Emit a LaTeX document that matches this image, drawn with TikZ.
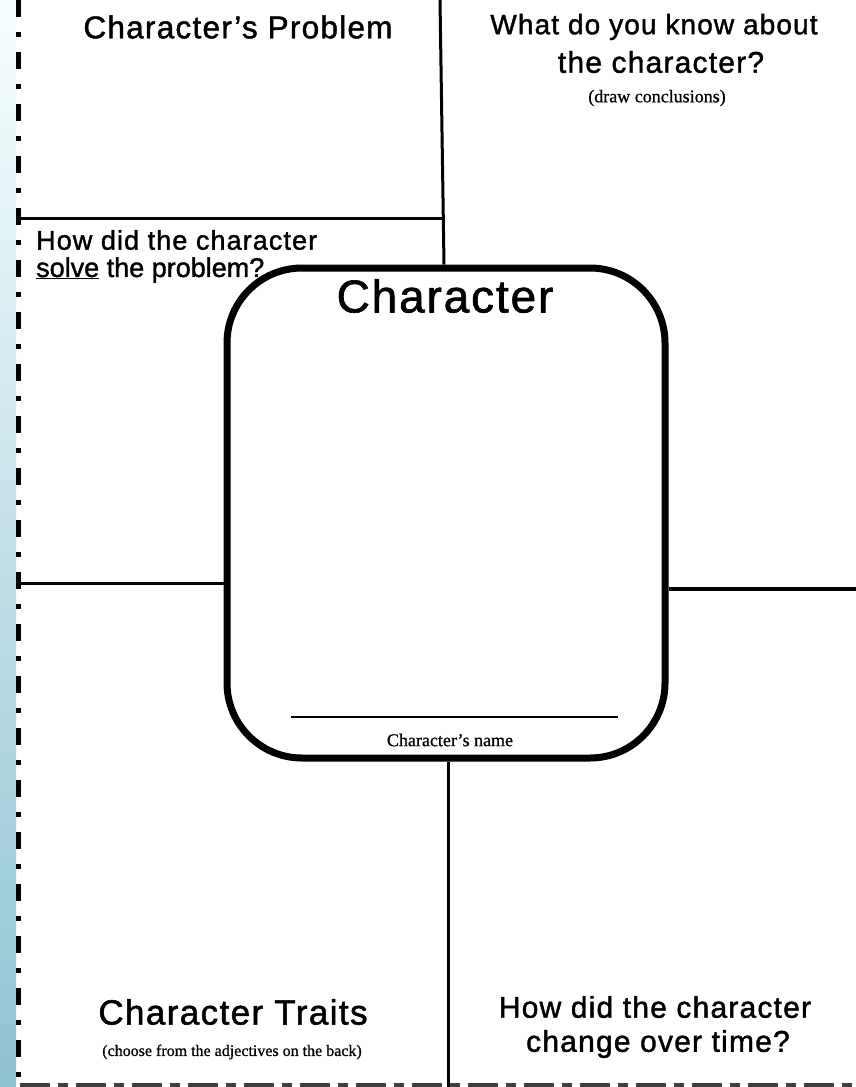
\documentclass[tikz,border=0pt]{standalone}
\usepackage{fontspec}
\setmainfont{Liberation Sans}
\newfontfamily\headfont[LetterSpace=4,FakeBold=1.4]{Liberation Sans}
\newfontfamily\headtight[LetterSpace=0,FakeBold=1.4]{Liberation Sans}
\newfontfamily\smallserif[FakeBold=0.8]{Liberation Serif}
\begin{document}
\begin{tikzpicture}[x=1pt,y=-1pt,
  head/.style={font=\headfont\fontsize{30}{34}\selectfont, inner sep=0pt},
  bighead/.style={font=\headfont\fontsize{35}{40}\selectfont, inner sep=0pt},
  note/.style={font=\smallserif\fontsize{18}{20}\selectfont, inner sep=0pt},
  rule/.style={line width=3pt, black},
  border/.style={line width=5pt, dash pattern=on 17pt off 15pt on 5pt off 15pt}
]
\useasboundingbox (0,0) rectangle (856,1087);
\fill[white] (0,0) rectangle (856,1087);
\shade[top color=blue!3!cyan!3!white, bottom color={rgb,255:red,142;green,195;blue,212}] (0,0) rectangle (16,1087);

% borders
\coordinate (lt) at (18,0);
\coordinate (lb) at (18,1080);
\draw[border] (lt) -- (lb);
\coordinate (bl) at (20,1085);
\coordinate (br) at (856,1085);
\draw[line width=5pt, black!75, dash pattern=on 30pt off 8pt on 10pt off 8pt] (bl) -- (br);

% central box
\node[draw, line width=7pt, rounded corners=75pt, minimum width=438pt, minimum height=490pt, inner sep=0pt] (box) at (446,513) {};

% dividing lines
\coordinate (ttop) at (440,0);
\draw[rule] (ttop) -- (box.north -| 444,0);
\coordinate (hl1) at (18,218);
\coordinate (hl2) at (442,218);
\draw[rule] (hl1) -- (hl2);
\coordinate (ll) at (18,583);
\draw[rule] (ll) -- (ll -| box.west);
\coordinate (rr) at (856,589);
\draw[line width=4pt] (rr -| box.east) -- (rr);
\coordinate (bb) at (448,1087);
\draw[rule] (box.south -| bb) -- (bb);

% name line
\coordinate (n1) at (291,717);
\coordinate (n2) at (618,717);
\draw[line width=2pt] (n1) -- (n2);

% texts
\node[head, font=\headfont\fontsize{31.5}{35}\selectfont] (prob) at (238,27) {Character’s Problem};
\node[head, font=\headfont\fontsize{28}{32}\selectfont] (know1) at (654,27) {What do you know about};
\node[head] (know2) at (661,62) {the character?};
\node[note] (concl) at (657,98) {(draw conclusions)};
\node[head, font=\headfont\fontsize{27}{30}\selectfont, anchor=west] (solve1) at (36,240) {How did the character};
\node[head, font=\headtight\fontsize{27}{30}\selectfont, anchor=west] (solve2) at (36,270) {\underline{solve} the problem?};
\node[inner sep=0pt, font=\headfont\fontsize{46}{50}\selectfont] (title) at (445,296) {Character};
\node[note] (name) at (450,740) {Character’s name};
\node[bighead] (traits) at (233,1012) {Character Traits};
\node[note, font=\smallserif\fontsize{16}{18}\selectfont] (choose) at (232,1052) {(choose from the adjectives on the back)};
\node[head] (chg1) at (655,1007) {How did the character};
\node[head] (chg2) at (658,1044) {change over time?};
\end{tikzpicture}
\end{document}
